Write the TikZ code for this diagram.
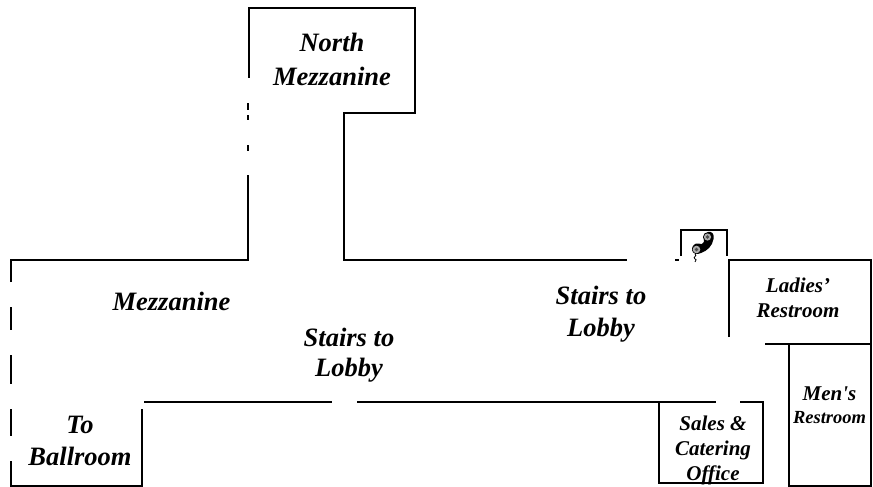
\documentclass[tikz,border=0pt]{standalone}
\usepackage{fontspec}
\setmainfont{Liberation Serif}[Ligatures=TeXOff]
\tikzset{
  wall/.style={draw=black,line width=2pt,line cap=butt,line join=miter},
  thin wall/.style={draw=black,line width=1.6pt},
  lab/.style={font=\bfseries\itshape\fontsize{26.5}{32}\selectfont,align=center,inner sep=0pt,text=black},
  labs/.style={font=\bfseries\itshape\fontsize{21}{25}\selectfont,align=center,inner sep=0pt,text=black}
}
\begin{document}
\begin{tikzpicture}[x=1pt,y=-1pt]
\useasboundingbox (0,0) rectangle (873,487);
% main outline
\draw[wall] (11,282) -- (11,260) -- (248,260) -- (248,175);
\draw[wall] (11,307) -- (11,330);
\draw[wall] (11,355) -- (11,384);
\draw[wall] (11,409) -- (11,436);
\draw[wall] (11,461) -- (11,486) -- (142,486) -- (142,409);
\draw[wall] (144,402) -- (332,402);
\draw[wall] (357,402) -- (716,402);
\draw[wall] (740,402) -- (763,402) -- (763,483) -- (659,483) -- (659,402);
% north mezzanine
\draw[wall] (249,78) -- (249,8) -- (415,8) -- (415,113) -- (344,113) -- (344,260) -- (627,260);
\draw[wall] (248,103) -- (248,110);
\draw[thin wall] (248,115) -- (248,120);
\draw[wall] (248,145) -- (248,151);
% phone alcove
\draw[wall] (681,256) -- (681,230) -- (727,230) -- (727,256);
\draw[wall] (675,260) -- (679,260);
% restrooms
\draw[wall] (729,337) -- (729,260) -- (871,260) -- (871,486) -- (789,486) -- (789,344);
\draw[wall] (765,344) -- (871,344);
% telephone
\fill[black] (708,232) .. controls (712,231) and (714.5,234) .. (713.5,239)
   .. controls (712.5,246) and (707,251) .. (701,253)
   .. controls (697,255) and (692.5,254) .. (692,250)
   .. controls (691.5,246) and (695,243) .. (698,243.5)
   .. controls (701,244) and (703,245) .. (704,242)
   .. controls (705,240) and (703,240) .. (703,237)
   .. controls (703,234) and (705,232.5) .. (708,232) -- cycle;
\fill[gray!65] (707.5,237) circle (3.6);
\fill[black!70] (707.5,237) circle (1.8);
\fill[gray!65] (696.5,249.5) circle (3.8);
\fill[black!70] (696.5,249.5) circle (1.9);
\draw[line width=.8pt] (695,254) .. controls (698,256) and (692,257) .. (695,259) .. controls (698,260) and (694,261) .. (695,262);
% labels
\node[lab,font=\bfseries\itshape\fontsize{26.5}{34.5}\selectfont] (north) at (332,59.5) {North\\Mezzanine};
\node[lab] (mezz) at (171.5,301) {Mezzanine};
\node[lab,font=\bfseries\itshape\fontsize{26.5}{30}\selectfont] (stairsA) at (349,355) {Stairs to\\Lobby};
\node[lab] (stairsB) at (601,314) {Stairs to\\Lobby};
\node[lab] (ball) at (80,441) {To\\Ballroom};
\node[labs] (ladies) at (798,297.5) {Ladies’\\Restroom};
\node[labs] (mens) at (829.5,405) {Men's\\[-2pt]{\fontsize{18.5}{22}\selectfont Restroom}};
\node[labs] (sales) at (713,450) {Sales \&\\Catering\\Office};
\end{tikzpicture}
\end{document}
